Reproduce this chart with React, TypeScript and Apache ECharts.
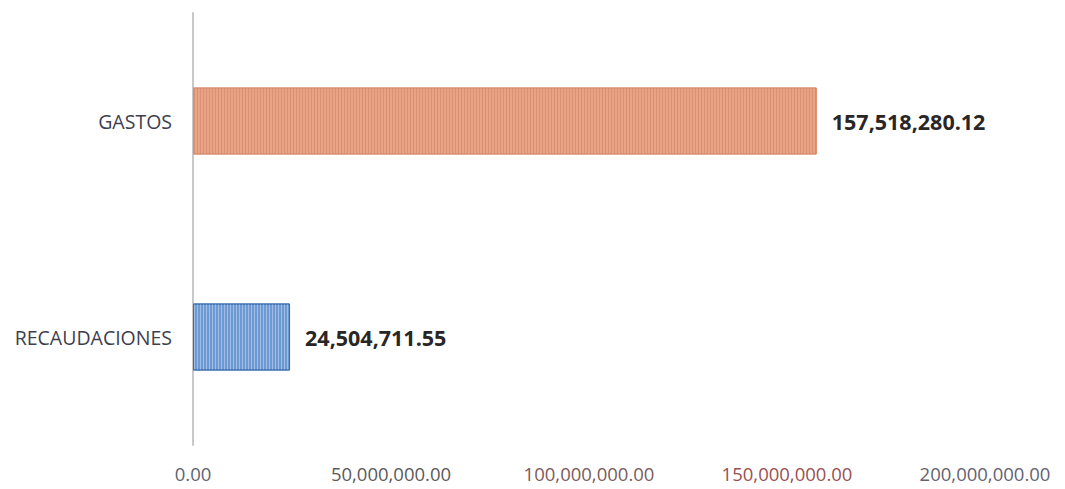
import React, { useEffect, useRef } from "react";
import * as echarts from "echarts";

const categories = ["RECAUDACIONES", "GASTOS"];
const values = [24504711.55, 157518280.12];
const barColors = ["#6e9ad4", "#eba385"];
const barBorders = ["#3d6cae", "#d98f70"];
const xTicks = [0, 50000000, 100000000, 150000000, 200000000];
const tickColors = ["#5d6472", "#5c5a5a", "#7a5c5c", "#9a5050", "#666270"];

const fmt = (v: number) =>
  v.toLocaleString("en-US", { minimumFractionDigits: 2, maximumFractionDigits: 2 });

export default function App() {
  const ref = useRef<HTMLDivElement>(null);
  useEffect(() => {
    if (!ref.current) return;
    const chart = echarts.init(ref.current, undefined, { renderer: "svg" });
    chart.setOption({
      animation: false,
      grid: { left: 185, right: 72, top: 5, bottom: 44, containLabel: false },
      xAxis: {
        type: "value",
        min: xTicks[0],
        max: xTicks[xTicks.length - 1],
        interval: xTicks[1] - xTicks[0],
        splitLine: { show: false },
        axisLine: { show: false },
        axisTick: { show: false },
        axisLabel: {
          formatter: (v: number) => fmt(v),
          color: (v: number, i: number) => tickColors[i] || "#5c5a5a",
          fontFamily: "Open Sans",
          fontSize: 18.5,
          lineHeight: 20,
          margin: 18,
        },
      },
      yAxis: {
        type: "category",
        data: categories,
        axisLine: { show: true, lineStyle: { color: "#c8c8c8", width: 2 } },
        axisTick: { show: false },
        axisLabel: {
          color: "#3e3e4e",
          fontFamily: "Open Sans",
          fontSize: 19.5,
          margin: 21,
        },
      },
      series: [
        {
          type: "bar",
          barWidth: 67,
          data: values.map((v, i) => ({
            value: v,
            itemStyle: {
              color: barColors[i],
              borderColor: barBorders[i],
              borderWidth: 1,
              decal: {
                symbol: "rect",
                symbolSize: 1,
                dashArrayX: [1, 2],
                dashArrayY: [4, 0],
                rotation: 0,
                color: i === 0 ? "rgba(255,255,255,0.35)" : "rgba(160,90,60,0.25)",
              },
            },
          })),
          label: {
            show: true,
            position: "right",
            distance: 15,
            formatter: (p: any) => fmt(p.value),
            color: "#2a2626",
            fontFamily: "Open Sans",
            fontWeight: "bold",
            fontSize: 21.5,
          },
        },
      ],
    });
    return () => chart.dispose();
  }, []);
  return <div ref={ref} style={{ width: 1049, height: 481 }} />;
}
